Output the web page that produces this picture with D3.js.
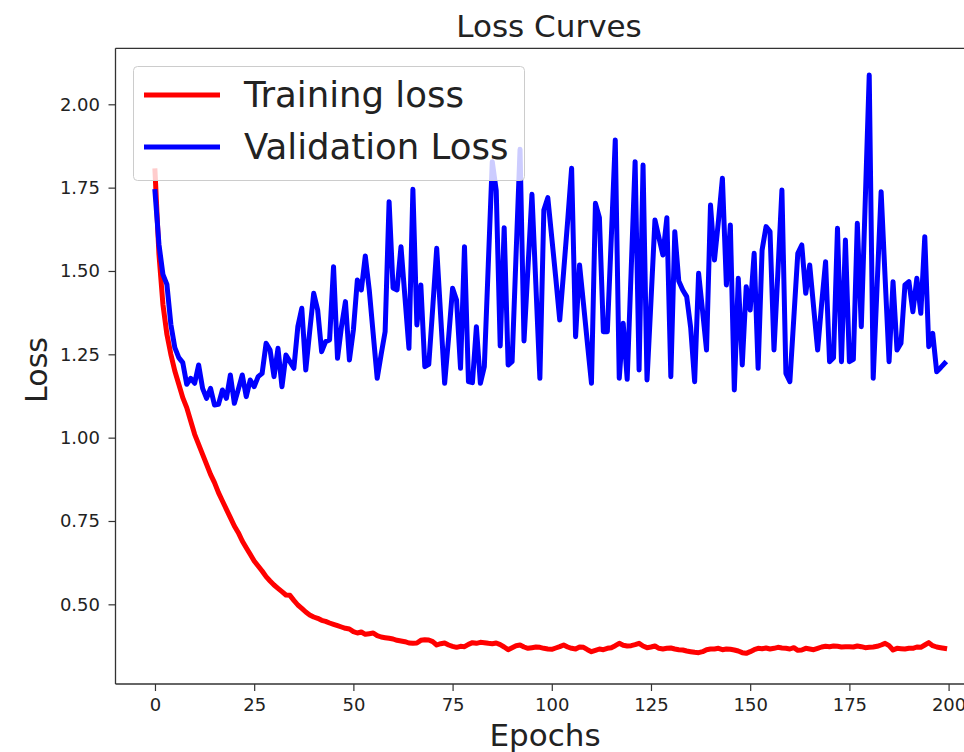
<!DOCTYPE html>
<html>
<head>
<meta charset="utf-8">
<script src="https://cdn.jsdelivr.net/npm/d3@7"></script>
<style>
  body { margin: 0; background: #fff; }
  text { font-family: "DejaVu Sans", sans-serif; fill: #222; }
</style>
</head>
<body>
<figure id="lossCurves" style="margin:0"></figure>
<script>
// values, one per epoch
var trainLoss = [
  1.80, 1.55, 1.40, 1.31, 1.25, 1.20, 1.16, 1.12, 1.09, 1.05,
  1.01, 0.98, 0.95, 0.92, 0.89, 0.865, 0.835, 0.81, 0.785, 0.76,
  0.735, 0.715, 0.69, 0.67, 0.65, 0.63, 0.615, 0.60, 0.583, 0.57,
  0.558, 0.548, 0.538, 0.528, 0.527, 0.512, 0.498, 0.488, 0.477, 0.468,
  0.462, 0.458, 0.452, 0.449, 0.444, 0.440, 0.436, 0.432, 0.428, 0.426,
  0.418, 0.414, 0.417, 0.410, 0.412, 0.414, 0.406, 0.402, 0.400, 0.398,
  0.396, 0.392, 0.390, 0.388, 0.384, 0.383, 0.384, 0.392, 0.394, 0.393,
  0.388, 0.378, 0.382, 0.384, 0.378, 0.374, 0.371, 0.374, 0.373, 0.380,
  0.385, 0.383, 0.386, 0.385, 0.383, 0.382, 0.384, 0.379, 0.372, 0.364,
  0.370, 0.376, 0.378, 0.372, 0.368, 0.370, 0.372, 0.371, 0.368, 0.366,
  0.365, 0.369, 0.373, 0.378, 0.372, 0.368, 0.366, 0.372, 0.371, 0.364,
  0.358, 0.362, 0.366, 0.364, 0.368, 0.370, 0.376, 0.383, 0.377, 0.375,
  0.376, 0.379, 0.383, 0.375, 0.370, 0.372, 0.375, 0.368, 0.366, 0.368,
  0.369, 0.366, 0.364, 0.363, 0.360, 0.358, 0.356, 0.355, 0.358, 0.364,
  0.366, 0.366, 0.368, 0.364, 0.366, 0.365, 0.363, 0.360, 0.355, 0.353,
  0.358, 0.364, 0.368, 0.367, 0.369, 0.366, 0.368, 0.371, 0.369, 0.368,
  0.366, 0.370, 0.362, 0.363, 0.368, 0.366, 0.364, 0.368, 0.372, 0.374,
  0.373, 0.375, 0.374, 0.372, 0.373, 0.373, 0.372, 0.375, 0.373, 0.370,
  0.371, 0.372, 0.374, 0.378, 0.383, 0.376, 0.363, 0.368, 0.367, 0.366,
  0.368, 0.368, 0.372, 0.371, 0.378, 0.385, 0.376, 0.372, 0.370, 0.368
];

var valLoss = [
  1.738, 1.58, 1.49, 1.46, 1.34, 1.27, 1.24, 1.225, 1.16, 1.178,
  1.163, 1.218, 1.148, 1.118, 1.148, 1.098, 1.10, 1.143, 1.118, 1.188,
  1.103, 1.145, 1.188, 1.123, 1.173, 1.153, 1.183, 1.193, 1.283, 1.263,
  1.183, 1.268, 1.153, 1.248, 1.228, 1.208, 1.333, 1.388, 1.203, 1.32,
  1.433, 1.383, 1.258, 1.288, 1.293, 1.513, 1.238, 1.333, 1.408, 1.233,
  1.323, 1.473, 1.443, 1.545, 1.443, 1.31, 1.178, 1.25, 1.318, 1.708,
  1.449, 1.443, 1.573, 1.42, 1.268, 1.745, 1.338, 1.458, 1.213, 1.22,
  1.39, 1.568, 1.365, 1.163, 1.30, 1.448, 1.413, 1.208, 1.573, 1.168,
  1.165, 1.333, 1.163, 1.213, 1.52, 1.828, 1.741, 1.275, 1.63, 1.218,
  1.228, 1.55, 1.865, 1.29, 1.51, 1.73, 1.455, 1.178, 1.683, 1.72,
  1.60, 1.48, 1.353, 1.50, 1.65, 1.808, 1.303, 1.518, 1.40, 1.28,
  1.163, 1.703, 1.66, 1.318, 1.318, 1.60, 1.893, 1.178, 1.343, 1.175,
  1.50, 1.828, 1.203, 1.818, 1.173, 1.41, 1.653, 1.60, 1.548, 1.66,
  1.183, 1.618, 1.47, 1.443, 1.423, 1.33, 1.168, 1.493, 1.38, 1.263,
  1.698, 1.533, 1.65, 1.778, 1.458, 1.638, 1.143, 1.478, 1.218, 1.453,
  1.383, 1.553, 1.208, 1.563, 1.633, 1.618, 1.263, 1.50, 1.743, 1.193,
  1.168, 1.36, 1.553, 1.578, 1.433, 1.518, 1.39, 1.263, 1.40, 1.528,
  1.228, 1.24, 1.628, 1.228, 1.593, 1.228, 1.235, 1.643, 1.333, 1.71,
  2.088, 1.178, 1.46, 1.738, 1.48, 1.228, 1.468, 1.263, 1.283, 1.458,
  1.468, 1.378, 1.478, 1.373, 1.603, 1.273, 1.313, 1.198, 1.21, 1.223
];

var epochs = d3.range(trainLoss.length);
var xTicks = [0, 25, 50, 75, 100, 125, 150, 175, 200];
var yTicks = [0.50, 0.75, 1.00, 1.25, 1.50, 1.75, 2.00];
var seriesNames = ["Training loss", "Validation Loss"];
var seriesColors = ["#ff0000", "#0000ff"];

function lossCurves() {

    // the axes box runs past the right edge of the picture, like the original
    var box = {left: 115.5, right: 984.1, top: 48.3, bottom: 684};

    var svg = d3.select("figure#lossCurves")
        .append("svg")
        .attr("width", 964)
        .attr("height", 752);

    // scales (matplotlib style 5% padding on x and y)
    var xScale = d3.scaleLinear()
        .domain([-9.95, 208.95])
        .range([box.left, box.right]);

    var yScale = d3.scaleLinear()
        .domain([0.261, 2.168])
        .range([box.bottom, box.top]);

    svg.append("clipPath")
        .attr("id", "plotArea")
        .append("rect")
        .attr("x", box.left)
        .attr("y", box.top)
        .attr("width", box.right - box.left)
        .attr("height", box.bottom - box.top);

    // axes
    var xAxis = svg.append("g")
        .attr("transform", "translate(0," + box.bottom + ")")
        .call(d3.axisBottom(xScale)
            .tickValues(xTicks)
            .tickSize(7)
            .tickPadding(7)
            .tickFormat(d3.format("d")));

    var yAxis = svg.append("g")
        .attr("transform", "translate(" + box.left + ",0)")
        .call(d3.axisLeft(yScale)
            .tickValues(yTicks)
            .tickSize(7)
            .tickPadding(8.5)
            .tickFormat(d3.format(".2f")));

    [xAxis, yAxis].forEach(function(ax) {
        ax.select(".domain").remove();
        ax.attr("color", "#333");
        ax.selectAll(".tick line").attr("stroke-width", 1.2);
        ax.selectAll(".tick text")
            .attr("font-size", 18)
            .attr("font-family", "DejaVu Sans, sans-serif")
            .style("fill", "#222");
    });

    // frame
    var spine = svg.append("g")
        .attr("stroke", "#333")
        .attr("stroke-width", 1.3);
    spine.append("line").attr("x1", box.left).attr("x2", box.left)
        .attr("y1", box.top).attr("y2", box.bottom);
    spine.append("line").attr("x1", box.left).attr("x2", box.right)
        .attr("y1", box.bottom).attr("y2", box.bottom);
    spine.append("line").attr("x1", box.left).attr("x2", box.right)
        .attr("y1", box.top).attr("y2", box.top);
    spine.append("line").attr("x1", box.right).attr("x2", box.right)
        .attr("y1", box.top).attr("y2", box.bottom);

    // the two curves
    var line = d3.line()
        .x(function(d, i) { return xScale(epochs[i]); })
        .y(function(d) { return yScale(d); });

    svg.append("g")
        .attr("clip-path", "url(#plotArea)")
        .selectAll("path")
        .data([trainLoss, valLoss])
        .enter()
        .append("path")
        .attr("d", line)
        .attr("fill", "none")
        .attr("stroke", function(d, i) { return seriesColors[i]; })
        .attr("stroke-width", 5)
        .attr("stroke-linejoin", "round")
        .attr("stroke-linecap", "square");

    // legend, semi transparent box on top of the lines
    var legend = svg.append("g");
    legend.append("rect")
        .attr("x", 133.5)
        .attr("y", 66.5)
        .attr("width", 391)
        .attr("height", 114)
        .attr("rx", 4)
        .attr("fill", "#fff")
        .attr("fill-opacity", 0.8)
        .attr("stroke", "#ccc")
        .attr("stroke-width", 1);

    var items = legend.selectAll("g.item")
        .data(seriesNames)
        .enter()
        .append("g")
        .attr("class", "item")
        .attr("transform", function(d, i) { return "translate(0," + (95 + i * 52) + ")"; });

    items.append("line")
        .attr("x1", 144)
        .attr("x2", 220)
        .attr("stroke", function(d, i) { return seriesColors[i]; })
        .attr("stroke-width", 5)
        .attr("stroke-linecap", "butt");

    items.append("text")
        .attr("x", 244)
        .attr("y", 12)
        .attr("font-size", 35.5)
        .text(function(d) { return d; });

    // titles
    svg.append("text")
        .attr("x", 549)
        .attr("y", 37)
        .attr("text-anchor", "middle")
        .attr("font-size", 31)
        .text("Loss Curves");

    svg.append("text")
        .attr("x", 545)
        .attr("y", 746)
        .attr("text-anchor", "middle")
        .attr("font-size", 31)
        .text("Epochs");

    svg.append("text")
        .attr("transform", "translate(47,370) rotate(-90)")
        .attr("text-anchor", "middle")
        .attr("font-size", 30)
        .text("Loss");
}

lossCurves();
</script>
</body>
</html>
